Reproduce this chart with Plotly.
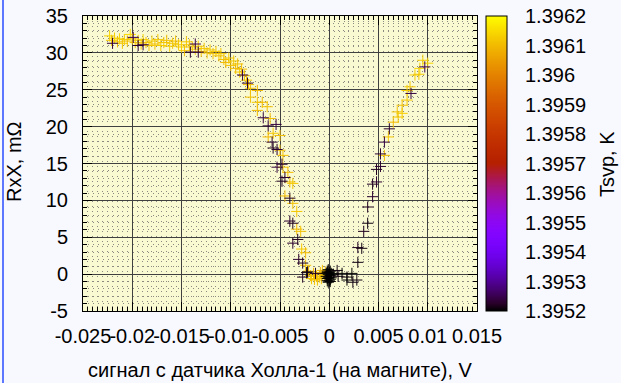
import math
import plotly.graph_objects as go

# ---------------- data ----------------
warm_x = [
    -0.0223, -0.0221, -0.0218, -0.0215, -0.0213, -0.0210, -0.0208, -0.0205, -0.0202, -0.0200,
    -0.0197, -0.0194, -0.0191, -0.0189, -0.0186, -0.0183, -0.0180, -0.0177, -0.0174, -0.0171,
    -0.0168, -0.0165, -0.0162, -0.0159, -0.0156, -0.0153, -0.0150, -0.0147, -0.0145, -0.0142,
    -0.0139, -0.0136, -0.0133, -0.0130, -0.0127, -0.0124, -0.0121, -0.0118, -0.0115, -0.0112,
    -0.0110, -0.0107, -0.0105, -0.0102, -0.0100, -0.0097, -0.0095, -0.0093, -0.0091, -0.0089,
    -0.0086, -0.0084, -0.0082, -0.0080, -0.0073, -0.0080, -0.0073, -0.0068, -0.0063, -0.0073,
    -0.0060, -0.0057, -0.0062, -0.0050, -0.0050, -0.0047, -0.0047, -0.0042, -0.0040, -0.0037,
    -0.0045, -0.0037, -0.0033, -0.0033, -0.0029, -0.0028, -0.0024, -0.0024, -0.0021, -0.0019,
    -0.0018, -0.0016, -0.0015, -0.0013, -0.0012, -0.0010, -0.0009, -0.0008, -0.0007, -0.0005,
    -0.0004, 0.0056, 0.0060, 0.0065, 0.0069, 0.0070, 0.0074, 0.0074, 0.0079, 0.0079,
    0.0082, 0.0087, 0.0091, 0.0092, 0.0095, 0.0100,
]
warm_y = [
    32.3, 31.7, 32.0, 31.5, 31.9, 31.3, 31.8, 31.6, 32.5, 31.9,
    31.4, 31.7, 31.2, 31.8, 31.4, 31.0, 31.6, 31.2, 31.8, 31.0,
    31.4, 31.7, 30.9, 31.3, 31.6, 31.1, 30.8, 30.3, 31.5, 31.1,
    30.8, 30.5, 30.9, 30.2, 30.6, 30.0, 30.4, 29.9, 30.2, 29.6,
    29.9, 29.1, 28.7, 29.3, 28.3, 28.9, 27.9, 28.5, 27.4, 27.8,
    26.9, 26.3, 25.7, 25.2, 24.9, 24.0, 23.3, 23.3, 22.7, 22.2,
    21.1, 19.1, 18.6, 18.8, 16.8, 16.1, 14.5, 13.8, 12.5, 12.3,
    10.6, 9.6, 8.5, 6.1, 5.8, 3.4, 2.9, 1.2, 0.4, -0.2,
    -0.6, 0.1, -0.7, -0.3, -0.8, -0.4, 0.2, -0.6, 0.5, -0.2,
    0.3, 16.1, 18.6, 20.6, 22.0, 21.3, 21.8, 22.9, 23.6, 24.9,
    25.4, 27.0, 27.1, 27.9, 29.0, 28.6,
]
warm_t = [
    1.39614, 1.39612, 1.39613, 1.39611, 1.39614, 1.39612, 1.39613, 1.39611, 1.39615, 1.39612,
    1.39611, 1.39613, 1.39612, 1.39614, 1.39611, 1.39612, 1.39613, 1.39611, 1.39612, 1.39613,
    1.39612, 1.39611, 1.39613, 1.39612, 1.39611, 1.39612, 1.39613, 1.39611, 1.39612, 1.39612,
    1.39611, 1.39612, 1.39613, 1.39611, 1.39612, 1.39611, 1.39612, 1.39611, 1.39612, 1.39611,
    1.39612, 1.39611, 1.39610, 1.39612, 1.39611, 1.39612, 1.39610, 1.39611, 1.39612, 1.39610,
    1.39611, 1.39612, 1.39610, 1.39611, 1.39610, 1.39611, 1.39612, 1.39610, 1.39611, 1.39610,
    1.39611, 1.39612, 1.39610, 1.39611, 1.39610, 1.39611, 1.39612, 1.39610, 1.39611, 1.39612,
    1.39610, 1.39611, 1.39612, 1.39610, 1.39611, 1.39612, 1.39610, 1.39611, 1.39610, 1.39611,
    1.39612, 1.39610, 1.39611, 1.39610, 1.39611, 1.39612, 1.39610, 1.39611, 1.39610, 1.39611,
    1.39610, 1.39611, 1.39612, 1.39610, 1.39611, 1.39612, 1.39613, 1.39611, 1.39612, 1.39613,
    1.39612, 1.39613, 1.39612, 1.39614, 1.39613, 1.39614,
]

cold_x = [
    -0.0220, -0.0199, -0.0194, -0.0189, -0.0141, -0.0133, -0.0136, -0.0088, -0.0083, -0.0067,
    -0.0062, -0.0054, -0.0058, -0.0057, -0.0053, -0.0053, -0.0048, -0.0048, -0.0045, -0.0040,
    -0.0040, -0.0037, -0.0037, -0.0032, -0.0031, -0.0027, -0.0023, -0.0027, -0.0022, -0.0014,
    -0.0002, -0.0001, 0.0000, -0.0002, 0.0001, -0.0001, 0.0000, -0.0003, 0.0001, -0.0002,
    0.0000, -0.0001, 0.0002, -0.0003, 0.0001, 0.0000, -0.0001, 0.0002, -0.0002, 0.0001,
    0.0008, 0.0013, 0.0018, 0.0023, 0.0024, 0.0018, 0.0028, 0.0004, 0.0009, 0.0029,
    0.0029, 0.0033, 0.0035, 0.0039, 0.0039, 0.0044, 0.0044, 0.0048, 0.0048, 0.0052,
    0.0052, 0.0056, 0.0061, 0.0083, 0.0097,
]
cold_y = [
    31.3, 32.1, 31.0, 31.1, 30.1, 30.1, 31.2, 27.0, 25.9, 21.2,
    20.1, 20.3, 17.9, 17.1, 16.9, 14.5, 14.9, 12.6, 13.1, 10.3,
    7.2, 6.9, 4.2, 4.7, 2.0, 1.5, 0.2, -0.4, 0.3, 0.1,
    0.4, 0.0, -0.5, -0.9, -0.2, -1.1, 0.2, -0.3, -0.7, -0.6,
    -0.9, 0.6, 0.1, 0.1, -1.0, -0.1, -0.4, -0.5, 0.2, 0.4,
    0.5, 0.1, -0.4, 0.1, -1.1, -0.8, -0.8, 0.0, -0.3, 1.6,
    3.6, 3.5, 5.8, 6.9, 9.1, 10.5, 12.2, 12.5, 14.2, 14.6,
    16.3, 17.9, 19.7, 24.5, 28.1,
]
cold_t = [
    1.39524, 1.39525, 1.39523, 1.39524, 1.39523, 1.39524, 1.39525, 1.39524, 1.39523, 1.39524,
    1.39523, 1.39524, 1.39523, 1.39522, 1.39523, 1.39524, 1.39523, 1.39522, 1.39523, 1.39522,
    1.39523, 1.39522, 1.39523, 1.39522, 1.39523, 1.39522, 1.39521, 1.39522, 1.39521, 1.39522,
    1.39520, 1.39519, 1.39520, 1.39519, 1.39520, 1.39519, 1.39520, 1.39519, 1.39520, 1.39519,
    1.39520, 1.39519, 1.39520, 1.39519, 1.39520, 1.39519, 1.39520, 1.39519, 1.39520, 1.39519,
    1.39521, 1.39520, 1.39521, 1.39520, 1.39521, 1.39520, 1.39521, 1.39520, 1.39521, 1.39521,
    1.39522, 1.39521, 1.39522, 1.39521, 1.39522, 1.39523, 1.39522, 1.39523, 1.39522, 1.39523,
    1.39523, 1.39524, 1.39523, 1.39524, 1.39525,
]

x_tickvals = [-0.025, -0.02, -0.015, -0.01, -0.005, 0, 0.005, 0.01, 0.015]
x_ticktext = ["-0.025", "-0.02", "-0.015", "-0.01", "-0.005", "0", "0.005", "0.01", "0.015"]
y_tickvals = [-5, 0, 5, 10, 15, 20, 25, 30, 35]
y_ticktext = ["-5", "0", "5", "10", "15", "20", "25", "30", "35"]
cb_tickvals = [1.3952, 1.3953, 1.3954, 1.3955, 1.3956, 1.3957, 1.3958, 1.3959, 1.3960, 1.3961, 1.3962]
cb_ticktext = ["1.3952", "1.3953", "1.3954", "1.3955", "1.3956", "1.3957", "1.3958", "1.3959",
               "1.396", "1.3961", "1.3962"]

x_title = "сигнал с датчика Холла-1 (на магните), V"
y_title = "RxX, mΩ"
cb_title = "Tsvp, K"

# ---------------- style ----------------
def gnuplot_pal(v):
    r = math.sqrt(v)
    g = v ** 3
    b = max(0.0, math.sin(2 * math.pi * v))
    return "rgb(%d,%d,%d)" % (round(255 * r), round(255 * g), round(255 * b))

colorscale = [[i / 40, gnuplot_pal(i / 40)] for i in range(41)]
cmin, cmax = 1.3952, 1.3962

FONT = "Liberation Sans, Arial, sans-serif"
FS = 20
PAGE_BG = "#f8f8ff"

# plot area in pixels
L, R, T, B = 83, 477, 16, 311
W, H = 621, 383
pw, ph = R - L, B - T

all_x = warm_x + cold_x
all_y = warm_y + cold_y
all_t = warm_t + cold_t

fig = go.Figure()
fig.add_trace(go.Scatter(
    x=all_x, y=all_y, mode="markers",
    marker=dict(
        symbol="cross-thin", size=8,
        color=all_t, colorscale=colorscale, cmin=cmin, cmax=cmax,
        line=dict(width=1, color=all_t, colorscale=colorscale, cmin=cmin, cmax=cmax),
        showscale=True,
        colorbar=dict(
            thickness=21, thicknessmode="pixels",
            len=1, lenmode="fraction", y=0.5, yanchor="middle",
            x=1 + (486 - R) / pw, xanchor="left", xpad=0, ypad=0,
            outlinewidth=1, outlinecolor="black",
            tickvals=cb_tickvals, ticktext=cb_ticktext,
            ticks="outside", ticklen=14, tickcolor="rgba(0,0,0,0)",
            tickfont=dict(family=FONT, size=FS, color="black"),
        ),
    ),
    showlegend=False, hoverinfo="skip",
))

axis_common = dict(
    ticks="inside", ticklen=9, tickcolor="black", tickwidth=1,
    mirror="allticks", showline=True, linecolor="black", linewidth=1,
    showgrid=True, gridcolor="#404040", gridwidth=1, zeroline=False,
    tickfont=dict(family=FONT, size=FS, color="black"), tickangle=0,
)

fig.update_xaxes(
    range=[-0.025, 0.015], tickvals=x_tickvals, ticktext=x_ticktext,
    minor=dict(dtick=0.0005, tick0=0, ticks="inside", ticklen=4, tickcolor="black",
               showgrid=True, griddash="1px,4px", gridcolor="#8a8a80", gridwidth=1),
    ticklabelstandoff=7,
    **axis_common,
)
fig.update_yaxes(
    range=[-5, 35], tickvals=y_tickvals, ticktext=y_ticktext,
    minor=dict(dtick=1, tick0=0, ticks="inside", ticklen=4, tickcolor="black",
               showgrid=True, griddash="1px,4px", gridcolor="#8a8a80", gridwidth=1),
    ticklabelstandoff=10,
    **axis_common,
)

fig.update_layout(
    width=W, height=H,
    margin=dict(l=L, r=W - R, t=T, b=H - B, pad=0, autoexpand=False),
    paper_bgcolor=PAGE_BG, plot_bgcolor="#fafad2",
    font=dict(family=FONT, size=FS, color="black"),
    annotations=[
        dict(text=x_title, xref="paper", yref="paper", x=0.5, y=-(370 - B) / ph,
             xanchor="center", yanchor="middle", showarrow=False,
             font=dict(family=FONT, size=FS, color="black")),
        dict(text=y_title, xref="paper", yref="paper", x=(14 - L) / pw, y=(B - 162) / ph,
             xanchor="center", yanchor="middle", textangle=-90, showarrow=False,
             font=dict(family=FONT, size=FS, color="black")),
        dict(text=cb_title, xref="paper", yref="paper", x=(607 - L) / pw, y=(B - 164) / ph,
             xanchor="center", yanchor="middle", textangle=-90, showarrow=False,
             font=dict(family=FONT, size=FS, color="black")),
    ],
    shapes=[
        dict(type="line", xref="paper", yref="paper",
             x0=(3 - L) / pw, x1=(3 - L) / pw, y0=-(H - B) / ph, y1=B / ph,
             line=dict(color="#2a4cff", width=1.5)),
    ],
)

fig.write_html(
    "out.html",
    config={"displayModeBar": False},
    post_script="document.body.style.margin='0';document.body.style.background='%s';" % PAGE_BG,
)
